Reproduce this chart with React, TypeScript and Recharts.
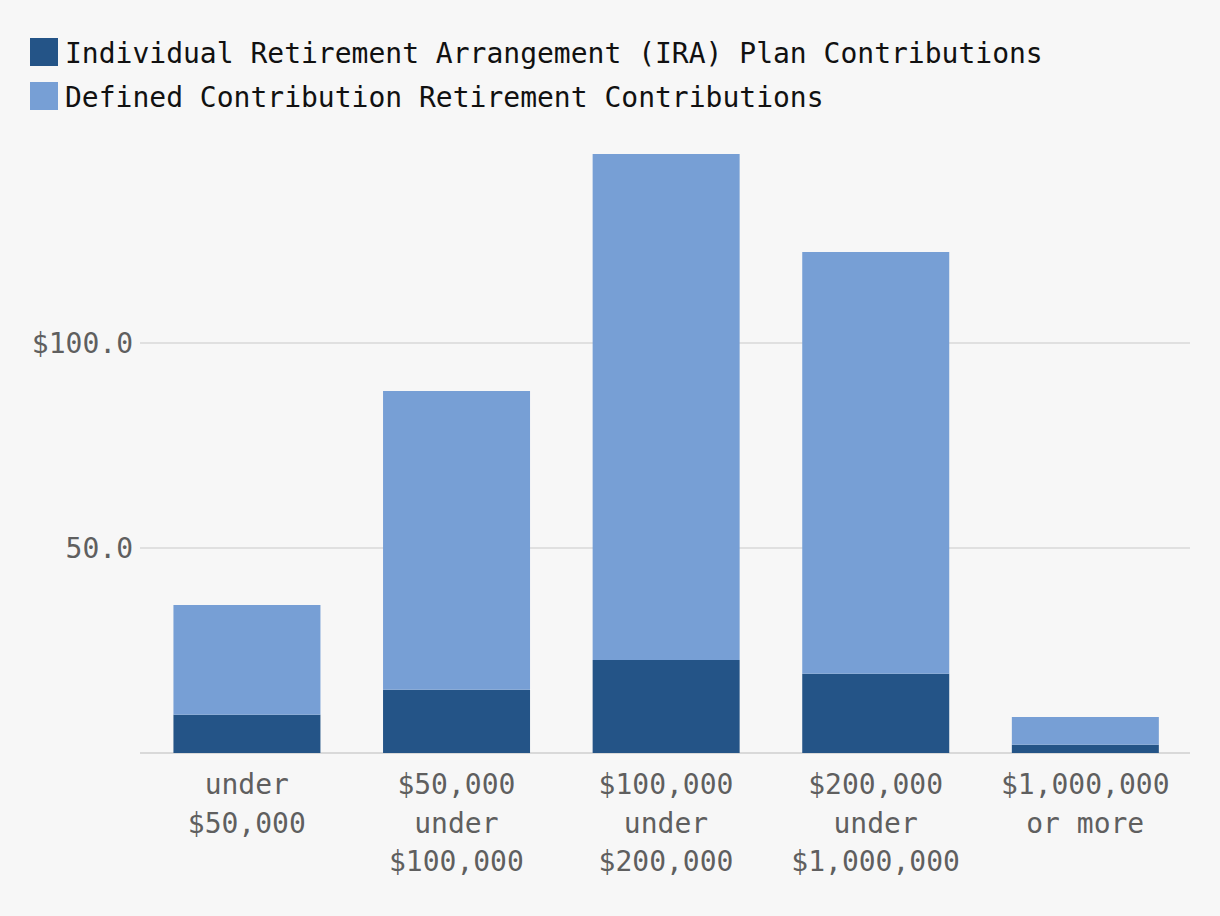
import React from "react";
import { BarChart, Bar, XAxis, YAxis, CartesianGrid } from "recharts";

const categories = [
  "under\n$50,000",
  "$50,000\nunder\n$100,000",
  "$100,000\nunder\n$200,000",
  "$200,000\nunder\n$1,000,000",
  "$1,000,000\nor more",
];
const iraValues = [9.3, 15.4, 22.7, 19.3, 2.0];
const dcValues = [26.8, 72.9, 123.4, 102.9, 6.8];
const seriesNames = [
  "Individual Retirement Arrangement (IRA) Plan Contributions",
  "Defined Contribution Retirement Contributions",
];
const seriesColors = ["#245487", "#779fd5"];
const yTicks = [50, 100];

const data = categories.map((c, i) => ({ name: c, ira: iraValues[i], dc: dcValues[i] }));

const FONT = "'DejaVu Sans Mono', 'Liberation Mono', monospace";

const XTick = (props: any) => {
  const { x, y, payload } = props;
  const lines = String(payload.value).split("\n");
  return (
    <g transform={`translate(${x},${y})`}>
      {lines.map((l: string, i: number) => (
        <text
          key={i}
          x={0}
          y={33 + i * 38.5}
          textAnchor="middle"
          fill="#5f5f5f"
          fontSize={28}
          fontFamily={FONT}
        >
          {l}
        </text>
      ))}
    </g>
  );
};

const fmtY = (v: number) => (v === Math.max(...yTicks) ? `$${v.toFixed(1)}` : v.toFixed(1));

export default function App() {
  return (
    <div
      style={{
        position: "absolute",
        left: 0,
        top: 0,
        width: 1220,
        height: 916,
        background: "#f7f7f7",
        fontFamily: FONT,
      }}
    >
      <div style={{ position: "absolute", left: 30, top: 38 }}>
        {seriesNames.map((n, i) => (
          <div key={n} style={{ display: "flex", alignItems: "center", height: 28, marginBottom: 16 }}>
            <div style={{ width: 28, height: 28, background: seriesColors[i], marginRight: 7 }} />
            <span
              style={{
                fontSize: 28,
                color: "#111",
                lineHeight: "28px",
                whiteSpace: "nowrap",
                position: "relative",
                top: 2,
              }}
            >
              {n}
            </span>
          </div>
        ))}
      </div>
      <BarChart
        width={1220}
        height={916}
        data={data}
        margin={{ top: 138, right: 30, bottom: 0, left: 2 }}
        barCategoryGap="15%"
      >
        <CartesianGrid
          vertical={false}
          stroke="#d9d9d9"
          strokeWidth={1.5}
          horizontalValues={yTicks}
          x={140}
          width={1050}
        />
        <XAxis
          dataKey="name"
          height={163}
          tickLine={false}
          axisLine={false}
          tick={<XTick />}
          interval={0}
        />
        <YAxis
          width={140}
          domain={[0, 150]}
          ticks={yTicks}
          tickFormatter={fmtY}
          tickLine={false}
          axisLine={false}
          tickMargin={3}
          tick={{ fill: "#5f5f5f", fontSize: 28, fontFamily: FONT }}
        />
        <Bar dataKey="ira" stackId="a" fill={seriesColors[0]} isAnimationActive={false} />
        <Bar dataKey="dc" stackId="a" fill={seriesColors[1]} isAnimationActive={false} />
        <CartesianGrid
          vertical={false}
          stroke="#d9d9d9"
          strokeWidth={2}
          horizontalValues={[0]}
          x={140}
          width={1050}
        />
      </BarChart>
    </div>
  );
}
